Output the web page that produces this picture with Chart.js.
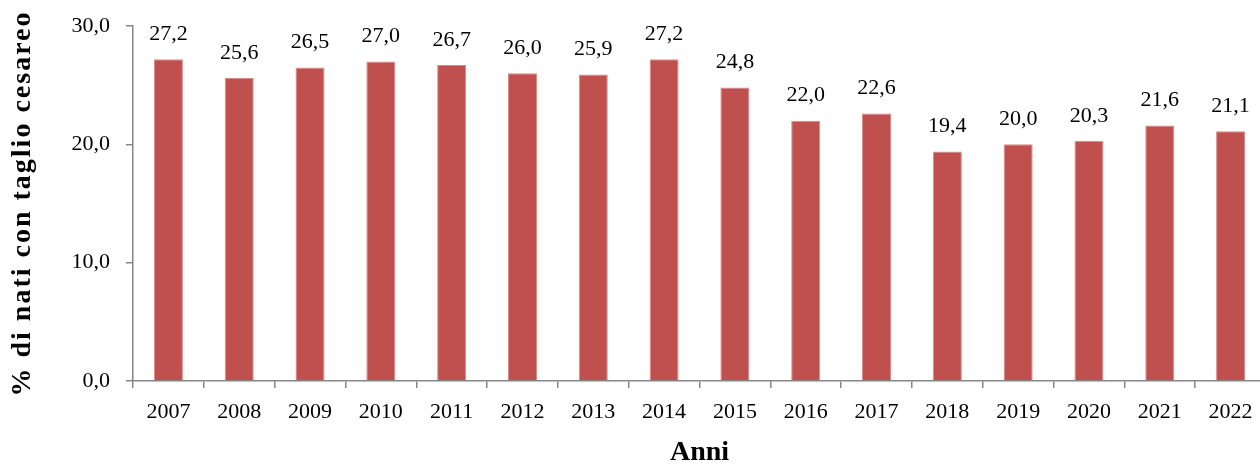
<!DOCTYPE html>
<html>
<head>
<meta charset="utf-8">
<script src="https://cdn.jsdelivr.net/npm/chart.js@4.4.0/dist/chart.umd.min.js"></script>
<style>
  html, body { margin: 0; padding: 0; background: #fff; overflow: hidden; }
  /* il grafico originale e' tagliato a destra: area un po' piu' larga della finestra */
  #wrap { width: 1266px; height: 464px; }
</style>
</head>
<body>
<div id="wrap"><canvas id="cesareiChart"></canvas></div>
<script>
const years = ['2007', '2008', '2009', '2010', '2011', '2012', '2013', '2014',
               '2015', '2016', '2017', '2018', '2019', '2020', '2021', '2022'];
const cesareanPct = [27.2, 25.6, 26.5, 27.0, 26.7, 26.0, 25.9, 27.2,
                     24.8, 22.0, 22.6, 19.4, 20.0, 20.3, 21.6, 21.1];
const yTicks = [0, 10, 20, 30];

const FONT = '"Liberation Serif", "Times New Roman", serif';
const AXIS_GREY = '#868686';
const fmt = v => v.toFixed(1).replace('.', ',');

// etichette sopra le barre
const barLabels = {
    id: 'barLabels',
    afterDatasetsDraw(chart) {
        const ctx = chart.ctx;
        const meta = chart.getDatasetMeta(0);
        ctx.save();
        ctx.font = '22px ' + FONT;
        ctx.fillStyle = '#000';
        ctx.textAlign = 'center';
        ctx.textBaseline = 'middle';
        meta.data.forEach((bar, i) => {
            ctx.fillText(fmt(cesareanPct[i]), bar.x, bar.y - 25);
        });
        ctx.restore();
    }
};

// titolo asse y un po' spaziato (il Garamond originale e' piu' largo)
function spaceTitle(scale) {
    if (scale._spaced) return;
    const orig = scale.drawTitle;
    scale.drawTitle = function() {
        this.ctx.save();
        this.ctx.letterSpacing = '2px';
        orig.call(this);
        this.ctx.restore();
    };
    scale._spaced = true;
}

new Chart(document.getElementById('cesareiChart'), {
    type: 'bar',
    data: {
        labels: years,
        datasets: [{
            data: cesareanPct,
            backgroundColor: '#C0504D',
            borderColor: '#D98A88',
            borderWidth: { left: 1, right: 1, top: 1, bottom: 0 },
            barPercentage: 0.41,
            categoryPercentage: 1
        }]
    },
    options: {
        responsive: true,
        maintainAspectRatio: false,
        animation: false,
        layout: { padding: { top: 26, right: 0, left: 0, bottom: 0 } },
        plugins: {
            legend: { display: false },
            tooltip: { enabled: false }
        },
        scales: {
            x: {
                offset: true,
                grid: {
                    offset: true,
                    drawOnChartArea: false,
                    drawTicks: true,
                    tickLength: 7,
                    color: AXIS_GREY,
                    lineWidth: 1.5
                },
                border: { color: AXIS_GREY, width: 1.5 },
                ticks: { font: { family: FONT, size: 22 }, color: '#000', padding: 11, maxRotation: 0 },
                title: {
                    display: true,
                    text: 'Anni',
                    font: { family: FONT, size: 28, weight: 'bold' },
                    color: '#000',
                    padding: { top: 0, bottom: -6 }
                },
                afterFit: s => { s.height = 83; }
            },
            y: {
                min: 0,
                max: 30,
                afterBuildTicks: s => { s.ticks = yTicks.map(v => ({ value: v })); },
                grid: {
                    drawOnChartArea: false,
                    drawTicks: true,
                    tickLength: 7,
                    color: AXIS_GREY,
                    lineWidth: 1.5
                },
                border: { color: AXIS_GREY, width: 1.5 },
                ticks: {
                    font: { family: FONT, size: 22 },
                    color: '#000',
                    padding: 16,
                    callback: v => fmt(v)
                },
                title: {
                    display: true,
                    text: '% di nati con taglio cesareo',
                    font: { family: FONT, size: 28, weight: 'bold' },
                    color: '#000',
                    padding: { top: 6, bottom: 0 }
                },
                afterFit: s => {
                    s.width = 133;
                    s.paddingTop = 0;
                    s.paddingBottom = 0;
                    spaceTitle(s);
                }
            }
        }
    },
    plugins: [barLabels]
});
</script>
</body>
</html>
